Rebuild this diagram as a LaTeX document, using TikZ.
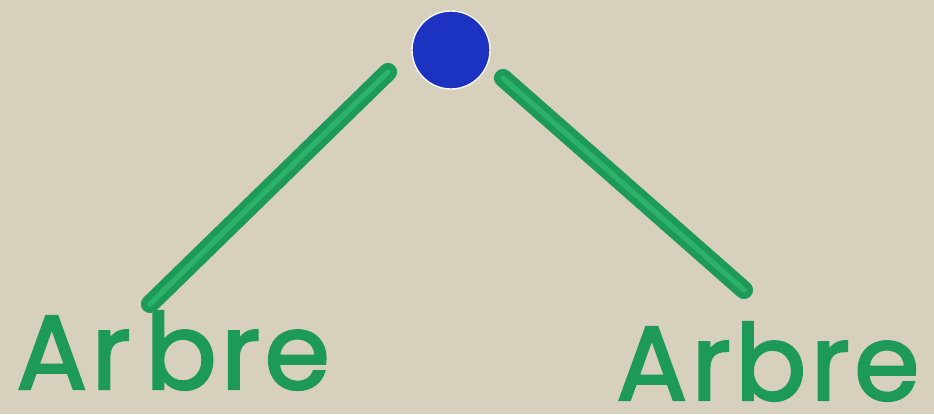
\documentclass[tikz,border=0pt]{standalone}
\usepackage{fontspec}
\newfontfamily\markerfont{Poppins}[FakeBold=2.2, LetterSpace=4]
\usepackage{xcolor}
\definecolor{boardbeige}{HTML}{D6D0BC}
\definecolor{markgreen}{HTML}{1E9A58}
\definecolor{markgreenlt}{HTML}{2DB26C}
\definecolor{dotblue}{HTML}{1B33C0}
\tikzset{
	marker/.style={draw=markgreen, line width=5.5pt, double=markgreenlt, double distance=4.5pt, line cap=round},
	word/.style={text=markgreen, font=\fontsize{90}{94}\selectfont\markerfont, inner sep=0pt, text depth=0pt, anchor=base west}
}

\begin{document}
\begin{tikzpicture}[x=0.03cm,y=-0.03cm]
	% board
	\path[use as bounding box] (0,0) rectangle (934,414);
	\fill[boardbeige] (0,0) rectangle (934,414);

	% blue dot at the top
	\node[circle, fill=dotblue, draw=white!85!boardbeige, line width=1.2pt, minimum size=78*0.03cm, inner sep=0pt] (dot) at (451,50) {};

	% the two words
	\node[word] (arbreG) at (16,389) {Ar\kern0.14em bre};
	\node[word] (arbreD) at (616,400) {Arbre};

	% branch ends
	\coordinate (topG) at (388,72);
	\coordinate (footG) at (150,304);
	\coordinate (topD) at (503,78);
	\coordinate (footD) at (744,290);

	% branches
	\draw[marker] (topG) -- (footG);
	\draw[marker] (topD) -- (footD);
\end{tikzpicture}
\end{document}
